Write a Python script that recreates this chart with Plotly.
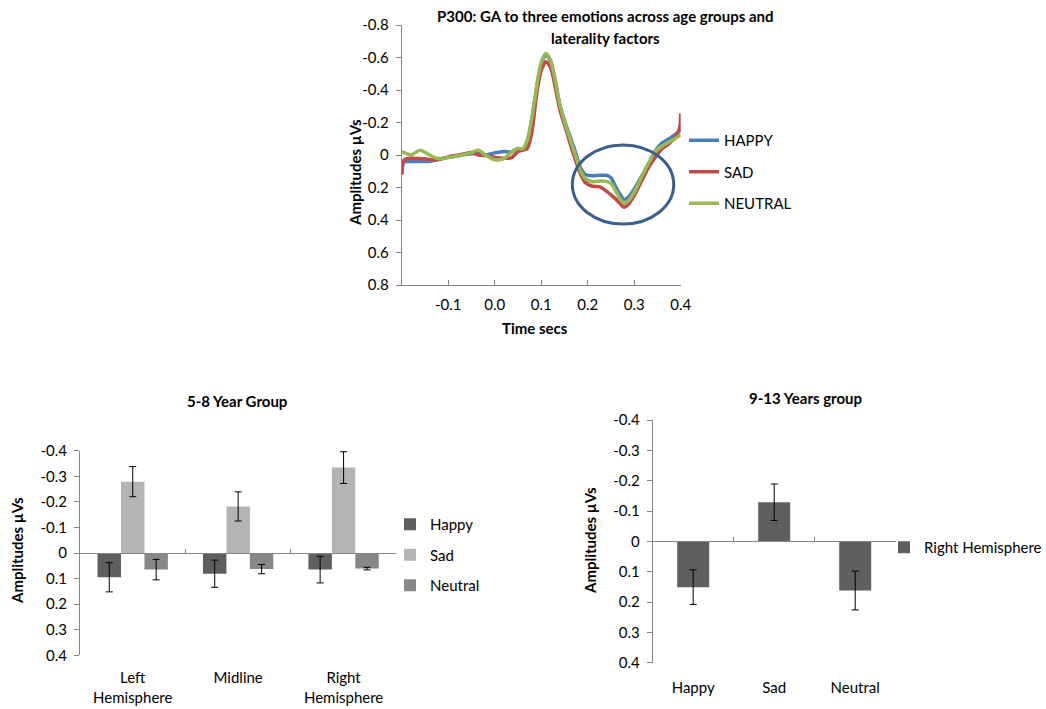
import plotly.graph_objects as go

W, H = 1046, 709
FONT = "Lato"

# ---------------- Data: top ERP waveform ----------------
time_s = [-0.2, -0.195, -0.18, -0.16, -0.14, -0.125, -0.11, -0.09, -0.07, -0.05, -0.035, -0.02,
          -0.005, 0.005, 0.02, 0.035, 0.05, 0.06, 0.07, 0.08, 0.09, 0.1, 0.11, 0.12, 0.13, 0.14,
          0.155, 0.17, 0.185, 0.195, 0.21, 0.225, 0.24, 0.25, 0.26, 0.27, 0.278, 0.287, 0.3,
          0.315, 0.33, 0.345, 0.36, 0.375, 0.39, 0.398, 0.4]
happy_uv = [0.12, 0.045, 0.04, 0.04, 0.04, 0.03, 0.02, 0.01, 0.0, -0.008, -0.01, 0.0,
            -0.01, -0.015, -0.022, -0.018, -0.04, -0.03, -0.08, -0.22, -0.41, -0.56, -0.615, -0.58, -0.46, -0.31,
            -0.17, -0.05, 0.08, 0.12, 0.128, 0.125, 0.125, 0.14, 0.195, 0.245, 0.273, 0.26, 0.21,
            0.135, 0.06, -0.025, -0.075, -0.1, -0.13, -0.148, -0.158]
sad_uv = [0.12, 0.03, 0.02, 0.022, 0.028, 0.03, 0.02, 0.005, -0.005, -0.015, 0.0, 0.003,
          0.01, 0.017, 0.02, 0.018, -0.02, -0.03, -0.04, -0.14, -0.37, -0.52, -0.574, -0.54, -0.42, -0.28,
          -0.14, 0.0, 0.12, 0.17, 0.192, 0.195, 0.222, 0.245, 0.27, 0.3, 0.322, 0.305, 0.25,
          0.165, 0.08, 0.015, -0.04, -0.07, -0.12, -0.17, -0.256]
neutral_uv = [-0.02, -0.015, 0.0, -0.03, 0.0, 0.02, 0.02, 0.01, 0.0, -0.015, -0.03, 0.0,
              0.025, 0.03, 0.022, -0.015, -0.04, -0.037, -0.09, -0.23, -0.42, -0.57, -0.625, -0.585, -0.46, -0.31,
              -0.16, -0.03, 0.1, 0.145, 0.165, 0.16, 0.162, 0.175, 0.22, 0.27, 0.297, 0.283, 0.23,
              0.14, 0.055, -0.02, -0.055, -0.08, -0.105, -0.12, -0.123]

top_ytick_vals = [-0.8, -0.6, -0.4, -0.2, 0, 0.2, 0.4, 0.6, 0.8]
top_ytick_text = ["-0.8", "-0.6", "-0.4", "-0.2", "0", "0.2", "0.4", "0.6", "0.8"]
top_xtick_vals = [-0.1, 0.0, 0.1, 0.2, 0.3, 0.4]
top_xtick_text = ["-0.1", "0.0", "0.1", "0.2", "0.3", "0.4"]

# ---------------- Data: 5-8 year group ----------------
regions = ["Left<br>Hemisphere", "Midline", "Right<br>Hemisphere"]
young_happy = [0.095, 0.081, 0.065]
young_sad = [-0.279, -0.182, -0.334]
young_neutral = [0.065, 0.063, 0.061]
young_happy_err = [0.057, 0.053, 0.052]
young_sad_err = [0.059, 0.057, 0.062]
young_neutral_err = [0.04, 0.018, 0.005]

# ---------------- Data: 9-13 years group ----------------
emotions = ["Happy", "Sad", "Neutral"]
old_right = [0.151, -0.129, 0.162]
old_right_err = [0.057, 0.06, 0.064]

bar_ytick_vals = [-0.4, -0.3, -0.2, -0.1, 0, 0.1, 0.2, 0.3, 0.4]
bar_ytick_text = ["-0.4", "-0.3", "-0.2", "-0.1", "0", "0.1", "0.2", "0.3", "0.4"]

# ---------------- Styles ----------------
C_BLUE, C_RED, C_GREEN = "#4a7ebb", "#be4b48", "#98b954"
C_HAPPY, C_SAD, C_NEUTRAL = "#5f5f5f", "#b4b4b4", "#878787"
AX = "#868686"


def px_x(p):
    return p / W


def px_y(p):
    return 1 - p / H


fig = go.Figure()

# Top line chart
for name, vals, col, grp in [("HAPPY", happy_uv, C_BLUE, "a"), ("SAD", sad_uv, C_RED, "b"),
                             ("NEUTRAL", neutral_uv, C_GREEN, "c")]:
    fig.add_trace(go.Scatter(x=time_s, y=vals, mode="lines", name=name,
                             line=dict(color=col, width=3.5, shape="spline", smoothing=0.7),
                             xaxis="x", yaxis="y", legend="legend", legendgroup=grp))

# Bottom-left grouped bars
err_kw = dict(type="data", color="black", thickness=1, width=3.5)
for name, vals, errs, col, grp in [("Happy", young_happy, young_happy_err, C_HAPPY, "a"),
                                   ("Sad", young_sad, young_sad_err, C_SAD, "b"),
                                   ("Neutral", young_neutral, young_neutral_err, C_NEUTRAL, "c")]:
    fig.add_trace(go.Bar(x=regions, y=vals, name=name, marker=dict(color=col, line=dict(width=0)),
                         error_y=dict(array=errs, **err_kw),
                         xaxis="x2", yaxis="y2", legend="legend2", legendgroup=grp))

# Bottom-right bars
fig.add_trace(go.Bar(x=emotions, y=old_right, name="Right Hemisphere", width=0.395,
                     marker=dict(color=C_HAPPY, line=dict(width=0)),
                     error_y=dict(array=old_right_err, **err_kw),
                     xaxis="x3", yaxis="y3", legend="legend3"))

# Transparent helper traces so the zero-line category axes (x4, x5) are drawn
fig.add_trace(go.Scatter(x=list(range(len(regions))), y=young_happy, mode="markers",
                         marker=dict(opacity=0), hoverinfo="skip", showlegend=False,
                         xaxis="x4", yaxis="y2"))
fig.add_trace(go.Scatter(x=list(range(len(emotions))), y=old_right, mode="markers",
                         marker=dict(opacity=0), hoverinfo="skip", showlegend=False,
                         xaxis="x5", yaxis="y3"))

tickfont = dict(family=FONT, size=15, color="black")
legfont = dict(family=FONT, size=15, color="black")

BL_TOP, BL_BOT = 450.7, 655.3
BR_TOP, BR_BOT = 420.0, 662.7

fig.update_layout(
    width=W, height=H, margin=dict(l=0, r=0, t=0, b=0, autoexpand=False),
    paper_bgcolor="white", plot_bgcolor="white",
    font=dict(family=FONT, size=15, color="black"),
    barmode="group", bargap=0.333, bargroupgap=0,
    showlegend=True,
    xaxis=dict(domain=[px_x(401.7), px_x(680.7)], range=[-0.2, 0.4], anchor="y",
               tickvals=top_xtick_vals, ticktext=top_xtick_text, ticks="inside", ticklen=5,
               tickcolor=AX, showline=True, linecolor=AX, showgrid=False, zeroline=False,
               tickfont=tickfont, ticklabelstandoff=6, automargin=False),
    yaxis=dict(domain=[px_y(285), px_y(25)], range=[0.8, -0.8], anchor="x",
               tickvals=top_ytick_vals, ticktext=top_ytick_text, ticks="outside", ticklen=5,
               tickcolor=AX, showline=True, linecolor=AX, showgrid=False, zeroline=False,
               tickfont=tickfont, ticklabelstandoff=4, automargin=False),
    xaxis2=dict(domain=[px_x(80), px_x(396.3)], anchor="y2", showline=False, ticks="",
                showgrid=False, zeroline=False, tickfont=tickfont, ticklabelstandoff=12,
                automargin=False),
    yaxis2=dict(domain=[px_y(BL_BOT), px_y(BL_TOP)], range=[0.4, -0.4], anchor="x2",
                tickvals=bar_ytick_vals, ticktext=bar_ytick_text, ticks="outside", ticklen=5,
                tickcolor=AX, showline=True, linecolor=AX, showgrid=False, zeroline=False,
                tickfont=tickfont, ticklabelstandoff=4, automargin=False),
    xaxis3=dict(domain=[px_x(652.7), px_x(895.7)], anchor="y3", showline=False, ticks="",
                showgrid=False, zeroline=False, tickfont=tickfont, ticklabelstandoff=14,
                automargin=False),
    yaxis3=dict(domain=[px_y(BR_BOT), px_y(BR_TOP)], range=[0.4, -0.4], anchor="x3",
                tickvals=bar_ytick_vals, ticktext=bar_ytick_text, ticks="outside", ticklen=5,
                tickcolor=AX, showline=True, linecolor=AX, showgrid=False, zeroline=False,
                tickfont=tickfont, ticklabelstandoff=4, automargin=False),
    # category axes drawn along the zero line (with boundary tick marks, as in Excel)
    xaxis4=dict(overlaying="x2", anchor="free", position=px_y((BL_TOP + BL_BOT) / 2),
                domain=[px_x(80), px_x(396.3)], range=[-0.5, 2.5], tickvals=[0.5, 1.5],
                ticks="inside", ticklen=4, tickcolor=AX, showline=True, linecolor=AX,
                showticklabels=False, showgrid=False, zeroline=False, automargin=False),
    xaxis5=dict(overlaying="x3", anchor="free", position=px_y((BR_TOP + BR_BOT) / 2),
                domain=[px_x(652.7), px_x(895.7)], range=[-0.5, 2.5], tickvals=[0.5, 1.5],
                ticks="inside", ticklen=4, tickcolor=AX, showline=True, linecolor=AX,
                showticklabels=False, showgrid=False, zeroline=False, automargin=False),
    legend=dict(x=px_x(684), y=px_y(124), xanchor="left", yanchor="top",
                bgcolor="rgba(0,0,0,0)", tracegroupgap=9, itemwidth=30, font=legfont),
    legend2=dict(x=px_x(390), y=px_y(508), xanchor="left", yanchor="top",
                 bgcolor="rgba(0,0,0,0)", tracegroupgap=8, itemwidth=30, font=legfont),
    legend3=dict(x=px_x(884), y=px_y(531), xanchor="left", yanchor="top",
                 bgcolor="rgba(0,0,0,0)", itemwidth=30, font=legfont),
)

# Ellipse highlighting the P300 window (in data coordinates of the top chart)
fig.add_shape(type="circle", xref="x", yref="y", x0=0.167, x1=0.385, y0=-0.062, y1=0.425,
              line=dict(color="#3b5f8c", width=3))

bold = dict(family=FONT, size=15, color="black")
ann = [
    dict(text="<b>P300: GA to three emotions across age groups and</b>", x=px_x(605), y=px_y(16)),
    dict(text="<b>laterality factors</b>", x=px_x(605), y=px_y(37.5)),
    dict(text="<b>Time secs</b>", x=px_x(535), y=px_y(328)),
    dict(text="<b>Amplitudes µVs</b>", x=px_x(355), y=px_y(173), textangle=-90),
    dict(text="<b>5-8 Year Group</b>", x=px_x(237), y=px_y(401)),
    dict(text="<b>Amplitudes µVs</b>", x=px_x(17), y=px_y(551), textangle=-90),
    dict(text="<b>9-13 Years group</b>", x=px_x(805), y=px_y(398)),
    dict(text="<b>Amplitudes µVs</b>", x=px_x(590), y=px_y(541), textangle=-90),
]
for a in ann:
    fig.add_annotation(xref="paper", yref="paper", showarrow=False, xanchor="center",
                       yanchor="middle", font=bold, **a)

fig.write_html("out.html")
